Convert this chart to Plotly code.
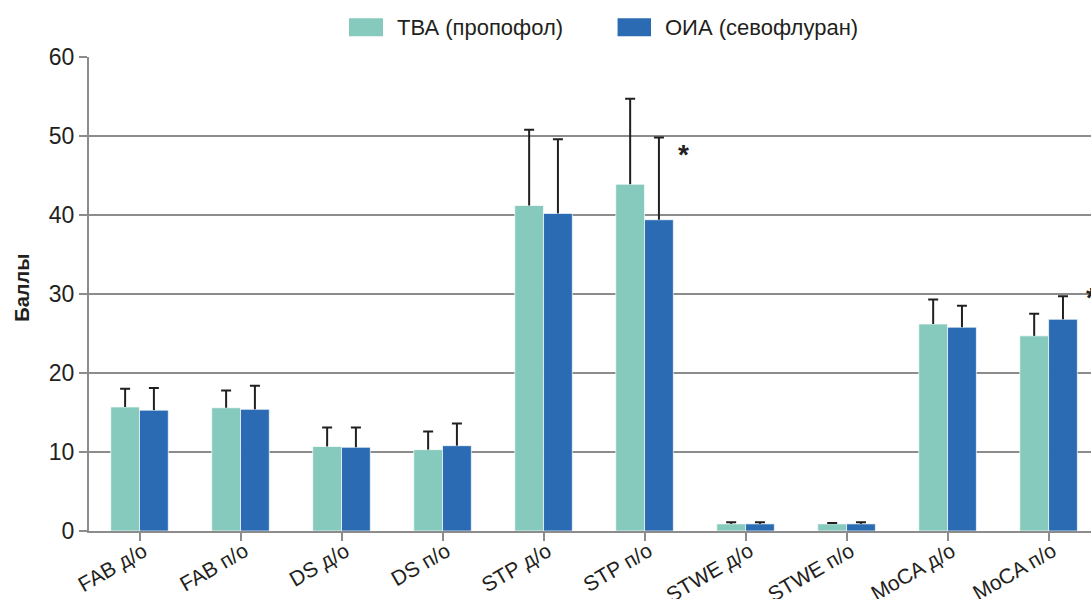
import plotly.graph_objects as go

categories = ["FAB д/о", "FAB п/о", "DS д/о", "DS п/о", "STP д/о", "STP п/о",
              "STWE д/о", "STWE п/о", "MoCA д/о", "MoCA п/о"]
tva_mean = [15.7, 15.6, 10.7, 10.3, 41.2, 43.9, 0.9, 0.9, 26.2, 24.7]
tva_sd = [2.3, 2.2, 2.4, 2.3, 9.6, 10.8, 0.2, 0.1, 3.1, 2.8]
oia_mean = [15.3, 15.4, 10.6, 10.8, 40.2, 39.4, 0.9, 0.9, 25.8, 26.8]
oia_sd = [2.8, 3.0, 2.5, 2.8, 9.4, 10.4, 0.2, 0.2, 2.7, 2.9]
series_names = ["ТВА (пропофол)", "ОИА (севофлуран)"]
series_colors = ["#86c9bd", "#2b6bb3"]
star_positions = [(5.39, 47.6), (9.42, 29.5)]

font_family = "Liberation Sans, Arial, sans-serif"
ink = "#231f20"
axis_gray = "#8c8c8c"

xs = list(range(len(categories)))
fig = go.Figure()
for gi, (name, mean, sd, color) in enumerate([
        (series_names[0], tva_mean, tva_sd, series_colors[0]),
        (series_names[1], oia_mean, oia_sd, series_colors[1])]):
    # bars with the vertical part of the (upper-only) error bar, no caps
    fig.add_trace(go.Bar(
        x=xs, y=mean, name=name, offsetgroup=str(gi),
        marker=dict(color=color, line=dict(color="rgba(255,255,255,0.7)", width=1)),
        error_y=dict(type="data", array=sd, arrayminus=[0] * len(sd), symmetric=False,
                     color=ink, thickness=2, width=0),
        showlegend=False, hoverinfo="skip",
    ))
    # invisible bars in the same offset group, only to draw the top caps
    tops = [m + s for m, s in zip(mean, sd)]
    fig.add_trace(go.Bar(
        x=xs, y=tops, offsetgroup=str(gi),
        marker=dict(color="rgba(0,0,0,0)", line=dict(width=0)),
        error_y=dict(type="data", array=[0] * len(sd), symmetric=True,
                     color=ink, thickness=2, width=5),
        showlegend=False, hoverinfo="skip",
    ))

for (sx, sy) in star_positions:
    fig.add_annotation(x=sx, y=sy, text="<b>*</b>", showarrow=False,
                       font=dict(size=28, color=ink, family=font_family),
                       xref="x", yref="y")

# manual legend (larger swatches than plotly's built-in)
legend_items = [
    (series_names[0], series_colors[0], 0.2595, 0.2934),
    (series_names[1], series_colors[1], 0.5275, 0.5609),
]
for text, color, x0, x1 in legend_items:
    fig.add_shape(type="rect", xref="paper", yref="paper", x0=x0, x1=x1,
                  y0=1.044, y1=1.082, fillcolor=color, line=dict(width=0))
    fig.add_annotation(xref="paper", yref="paper", x=x1 + 0.012, y=1.063,
                       xanchor="left", yanchor="middle", text=text, showarrow=False,
                       font=dict(size=22, color=ink, family=font_family))

# y-axis title
fig.add_annotation(xref="paper", yref="paper", x=-0.067, y=0.513, text="<b>Баллы</b>",
                   textangle=-90, showarrow=False, xanchor="center", yanchor="middle",
                   font=dict(size=20, color=ink, family=font_family))

fig.update_layout(
    width=1091, height=599,
    margin=dict(l=89, r=0, t=57, b=68),
    paper_bgcolor="white", plot_bgcolor="white",
    barmode="group", bargap=0.43, bargroupgap=0,
    font=dict(family=font_family, color=ink, size=22),
    showlegend=False,
)

fig.update_xaxes(
    tickmode="array", tickvals=xs, ticktext=categories,
    range=[-0.5, 9.42], tickangle=-30, tickfont=dict(size=21, color=ink),
    showline=True, linecolor=axis_gray, linewidth=2,
    ticks="outside", ticklen=8, tickcolor=axis_gray, tickwidth=2,
    showgrid=False, zeroline=False, automargin=False, tickson="boundaries",
    ticklabelstandoff=-10, ticklabelshift=4,
)
fig.update_yaxes(
    range=[0, 60], tickvals=[0, 10, 20, 30, 40, 50, 60],
    tickfont=dict(size=23, color=ink),
    showline=True, linecolor=axis_gray, linewidth=2,
    ticks="outside", ticklen=8, tickcolor=axis_gray, tickwidth=2,
    showgrid=True, gridcolor=axis_gray, gridwidth=1.5, zeroline=False,
    automargin=False,
)

fig.write_html("out.html", config={"displayModeBar": False},
               post_script="document.body.style.margin='0';document.body.style.overflow='hidden';")
